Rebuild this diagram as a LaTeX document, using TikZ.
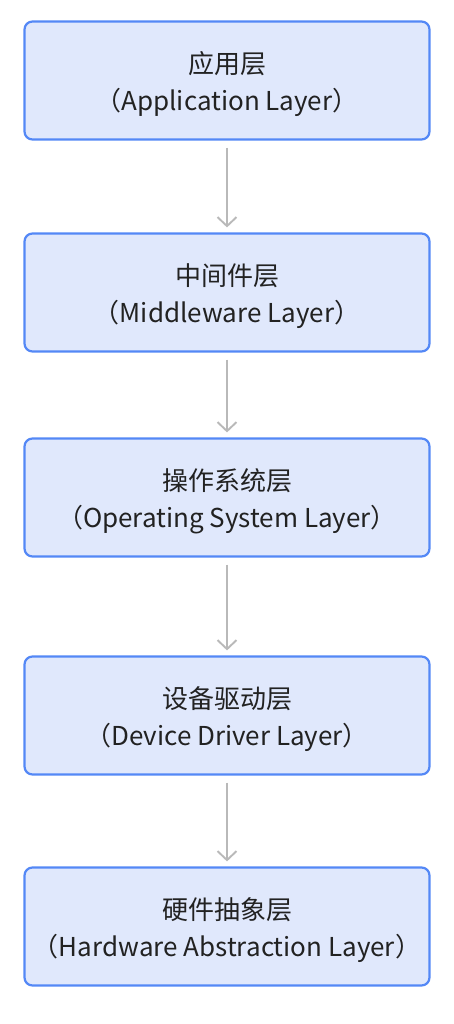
\documentclass[tikz,border=0pt]{standalone}
\usepackage{fontspec}
\setmainfont{Noto Sans CJK SC}
\usetikzlibrary{arrows.meta}
\definecolor{boxfill}{RGB}{224,232,252}
\definecolor{boxdraw}{RGB}{84,136,246}
\definecolor{txt}{RGB}{34,34,34}
\definecolor{arr}{RGB}{185,185,185}
\tikzset{
  layer/.style={draw=boxdraw, fill=boxfill, line width=2.2pt, rounded corners=8pt,
    minimum width=405pt, minimum height=118pt, inner sep=0pt},
  lbl/.style={align=center, text=txt, font=\fontsize{26}{37}\selectfont, inner sep=0pt},
  flow/.style={draw=arr, line width=1.9pt, -{Straight Barb[length=9pt, width=19pt]}}
}
\begin{document}
\begin{tikzpicture}[x=1pt,y=-1pt]
\useasboundingbox (0,0) rectangle (454,1024);
\node[layer] (a) at (227,80.5) {};
\node[layer] (b) at (227,292.5) {};
\node[layer] (c) at (227,497.5) {};
\node[layer] (d) at (227,715.5) {};
\node[layer] (e) at (227,926.5) {};
\node[lbl] (ta) at ([yshift=-3.5pt]a.center) {应用层\\（Application Layer）};
\node[lbl] (tb) at ([yshift=-3.5pt]b.center) {中间件层\\（Middleware Layer）};
\node[lbl] (tc) at ([yshift=-3.5pt]c.center) {操作系统层\\（Operating System Layer）};
\node[lbl] (td) at ([yshift=-3.5pt]d.center) {设备驱动层\\（Device Driver Layer）};
\node[lbl] (te) at ([yshift=-3.5pt]e.center) {硬件抽象层\\（Hardware Abstraction Layer）};
\draw[flow] ([yshift=-7pt]a.south) -- ([yshift=5pt]b.north);
\draw[flow] ([yshift=-7pt]b.south) -- ([yshift=5pt]c.north);
\draw[flow] ([yshift=-7pt]c.south) -- ([yshift=5pt]d.north);
\draw[flow] ([yshift=-7pt]d.south) -- ([yshift=5pt]e.north);
\end{tikzpicture}
\end{document}
